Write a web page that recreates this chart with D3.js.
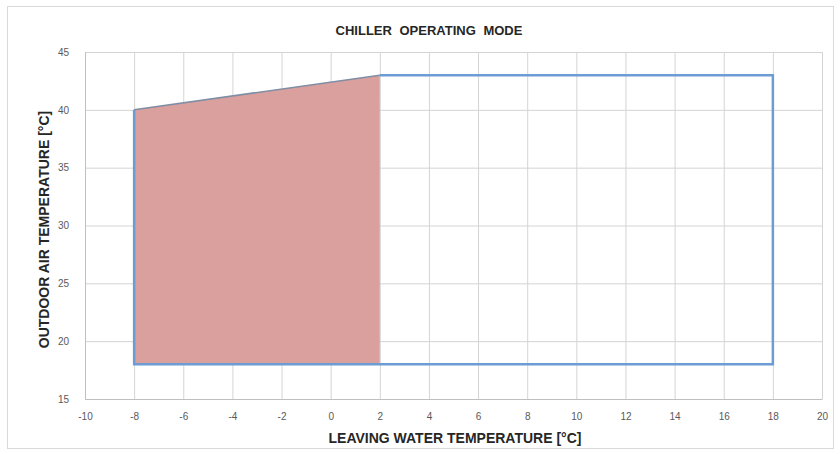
<!DOCTYPE html>
<html>
<head>
<meta charset="utf-8">
<script src="https://cdn.jsdelivr.net/npm/d3@7"></script>
<style>
  body { margin: 0; background: #fff; }
  text { font-family: "Liberation Sans Narrow", "Arial Narrow", "Liberation Sans", sans-serif; }
</style>
</head>
<body>
<svg width="840" height="454"></svg>
<script>
// chiller operating envelope (leaving water temp vs outdoor air temp)
var xTicks = [-10, -8, -6, -4, -2, 0, 2, 4, 6, 8, 10, 12, 14, 16, 18, 20];
var yTicks = [15, 20, 25, 30, 35, 40, 45];

// shaded zone (glycol area)
var zoneX = [-8, -8, 2, 2];
var zoneY = [18, 40, 43, 18];

// envelope outline
var outlineX = [-8, -8, 18, 18, 2];
var outlineY = [40, 18, 18, 43, 43];

var svg = d3.select("svg");

var x = d3.scaleLinear().domain([-10, 20]).range([85, 822]);
var y = d3.scaleLinear().domain([15, 45]).range([399, 52]);

// outer frame
svg.append("rect")
    .attr("x", 7.5).attr("y", 6.5)
    .attr("width", 826).attr("height", 442)
    .attr("fill", "#fff")
    .attr("stroke", "#d9d9d9");

// grid
svg.append("g")
    .attr("transform", "translate(0," + y(15) + ")")
    .call(d3.axisBottom(x).tickValues(xTicks).tickSize(y(45) - y(15)).tickFormat(""))
    .call(function(g) {
      g.select(".domain").remove();
      g.selectAll("line").attr("stroke", "#d4d4d4");
    });

svg.append("g")
    .attr("transform", "translate(" + x(-10) + ",0)")
    .call(d3.axisLeft(y).tickValues(yTicks).tickSize(x(-10) - x(20)).tickFormat(""))
    .call(function(g) {
      g.select(".domain").remove();
      g.selectAll("line").attr("stroke", "#d4d4d4");
    });

// axis lines + labels
var xAxis = svg.append("g")
    .attr("transform", "translate(0," + y(15) + ")")
    .call(d3.axisBottom(x).tickValues(xTicks).tickSize(0).tickPadding(14)
      .tickFormat(function(d) { return String(d); }));
xAxis.select(".domain").attr("stroke", "#bfbfbf");
xAxis.selectAll("text").attr("font-size", 10).attr("fill", "#595959")
    .style("font-family", "'Liberation Sans Narrow', 'Liberation Sans', sans-serif");

var yAxis = svg.append("g")
    .attr("transform", "translate(" + x(-10) + ",0)")
    .call(d3.axisLeft(y).tickValues(yTicks).tickSize(0).tickPadding(16));
yAxis.select(".domain").attr("stroke", "#bfbfbf");
yAxis.selectAll("text").attr("font-size", 10).attr("fill", "#595959")
    .style("font-family", "'Liberation Sans Narrow', 'Liberation Sans', sans-serif");

// shaded zone
var zone = zoneX.map(function(d, i) { return [x(d), y(zoneY[i])]; });
svg.append("path")
    .attr("d", d3.line()(zone) + "Z")
    .attr("fill", "#d9a09e")
    .attr("stroke", "none");

// sloped top edge of the zone
svg.append("line")
    .attr("x1", x(-8)).attr("y1", y(40))
    .attr("x2", x(2)).attr("y2", y(43))
    .attr("stroke", "#7f8ea3")
    .attr("stroke-width", 1.5);

// envelope outline
var outline = outlineX.map(function(d, i) { return [x(d), y(outlineY[i])]; });
svg.append("path")
    .attr("d", d3.line()(outline))
    .attr("fill", "none")
    .attr("stroke", "#6d9bd3")
    .attr("stroke-width", 2.5)
    .attr("stroke-linejoin", "miter");

// titles
svg.append("text")
    .attr("x", 429).attr("y", 35)
    .attr("text-anchor", "middle")
    .attr("font-size", 13).attr("font-weight", "bold")
    .attr("word-spacing", 4)
    .attr("fill", "#262626")
    .text("CHILLER OPERATING MODE");

svg.append("text")
    .attr("x", 455).attr("y", 443)
    .attr("text-anchor", "middle")
    .attr("font-size", 14).attr("font-weight", "bold")
    .attr("fill", "#262626")
    .text("LEAVING WATER TEMPERATURE [°C]");

svg.append("text")
    .attr("transform", "translate(49," + ((y(15) + y(45)) / 2 + 4) + ") rotate(-90)")
    .attr("text-anchor", "middle")
    .attr("font-size", 14).attr("font-weight", "bold")
    .attr("fill", "#262626")
    .text("OUTDOOR AIR TEMPERATURE [°C]");
</script>
</body>
</html>
